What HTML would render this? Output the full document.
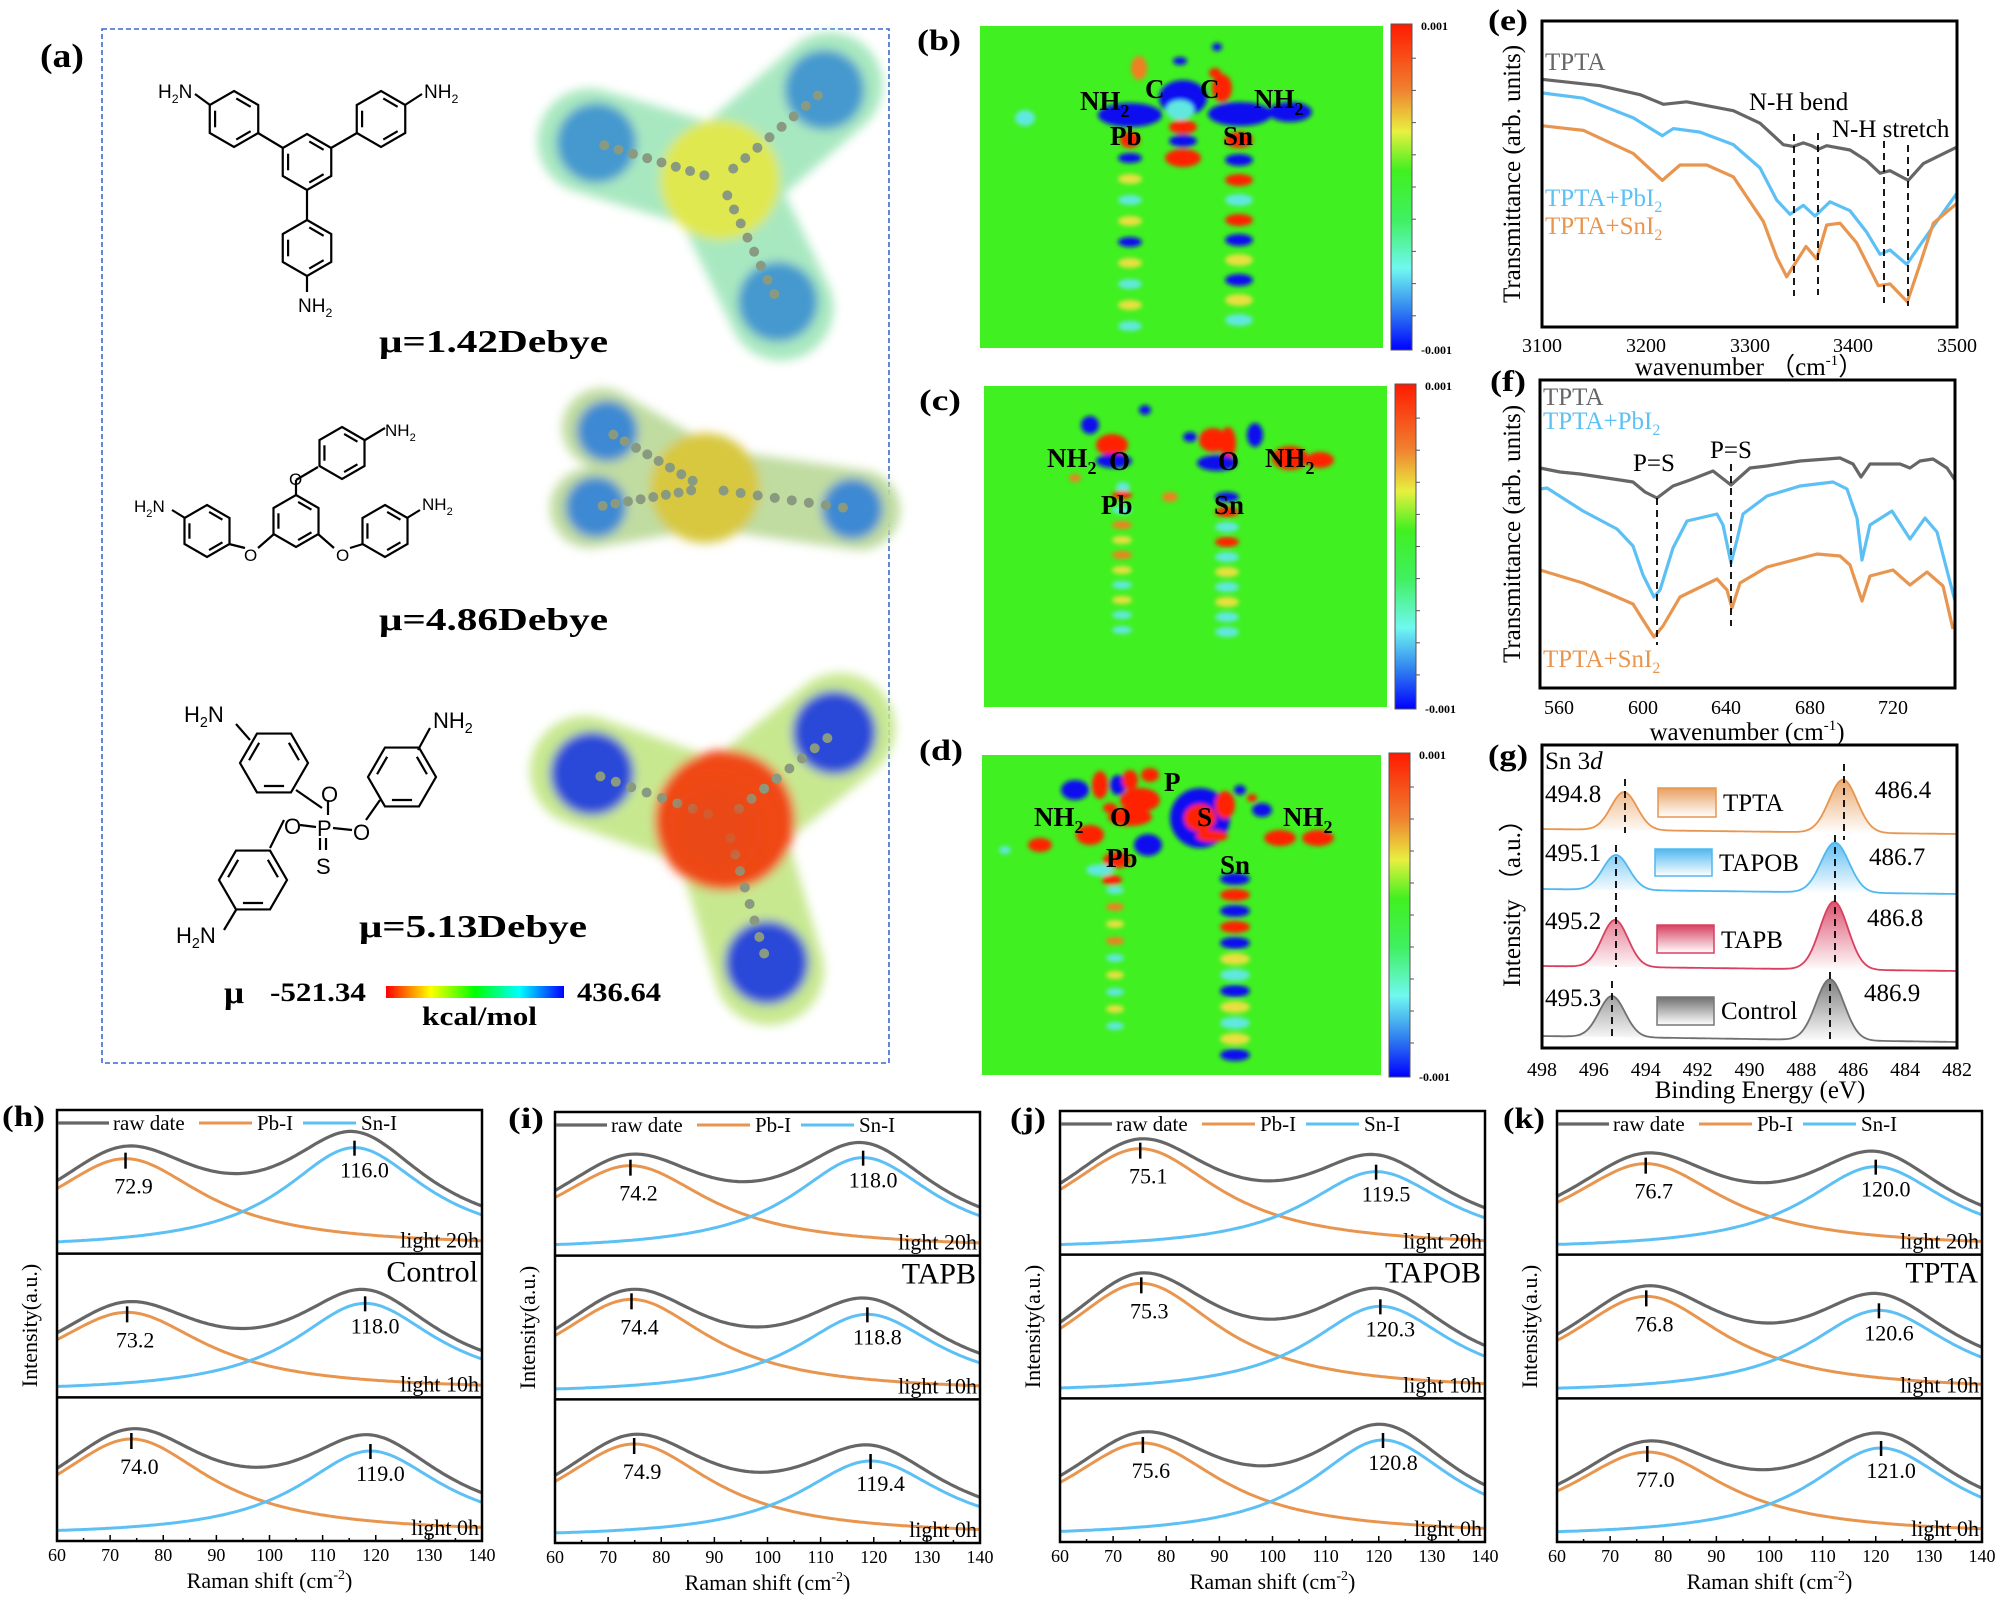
<!DOCTYPE html>
<html><head><meta charset="utf-8">
<style>
html,body{margin:0;padding:0;background:#fff;}
svg{display:block;}
text{font-family:"Liberation Serif",serif;}
.sans{font-family:"Liberation Sans",sans-serif;}
</style></head>
<body>
<svg id="s" xmlns="http://www.w3.org/2000/svg" width="2000" height="1601" viewBox="0 0 2000 1601">
<defs>
<filter id="bl2" x="-30%" y="-30%" width="160%" height="160%"><feGaussianBlur stdDeviation="2.2"/></filter>
<filter id="bl6" x="-30%" y="-30%" width="160%" height="160%"><feGaussianBlur stdDeviation="5"/></filter>
<filter id="bl12" x="-30%" y="-30%" width="160%" height="160%"><feGaussianBlur stdDeviation="12"/></filter>
<linearGradient id="cbar" x1="0" y1="0" x2="0" y2="1">
<stop offset="0" stop-color="#ff1a00"/><stop offset="0.2" stop-color="#f08030"/><stop offset="0.33" stop-color="#e8f040"/><stop offset="0.45" stop-color="#40f020"/><stop offset="0.6" stop-color="#40f060"/><stop offset="0.75" stop-color="#70f8f0"/><stop offset="0.88" stop-color="#3080f0"/><stop offset="1" stop-color="#0000ff"/></linearGradient>
<linearGradient id="hbar" x1="0" y1="0" x2="1" y2="0">
<stop offset="0" stop-color="#ff0000"/><stop offset="0.25" stop-color="#ffff00"/><stop offset="0.5" stop-color="#00ff00"/><stop offset="0.75" stop-color="#00ffff"/><stop offset="1" stop-color="#0000ff"/></linearGradient>
<linearGradient id="gO" x1="0" y1="0" x2="0" y2="1"><stop offset="0" stop-color="#e8a060"/><stop offset="1" stop-color="#fff"/></linearGradient>
<linearGradient id="gB" x1="0" y1="0" x2="0" y2="1"><stop offset="0" stop-color="#50b8f0"/><stop offset="1" stop-color="#fff"/></linearGradient>
<linearGradient id="gR" x1="0" y1="0" x2="0" y2="1"><stop offset="0" stop-color="#d84060"/><stop offset="1" stop-color="#fff"/></linearGradient>
<linearGradient id="gG" x1="0" y1="0" x2="0" y2="1"><stop offset="0" stop-color="#707070"/><stop offset="1" stop-color="#fff"/></linearGradient>
</defs>

<!-- Panel (a) -->
<rect x="102" y="29" width="787" height="1034" fill="none" stroke="#3a66d8" stroke-width="1.6" stroke-dasharray="5,3"/>
<text x="40" y="67" font-size="34" font-weight="bold" textLength="44" lengthAdjust="spacingAndGlyphs">(a)</text>
<g id="mols" stroke="#000" stroke-width="2.2" fill="none"></g>
<g id="esp"></g>
<g font-weight="bold" font-size="32">
<text x="379" y="352" textLength="229" lengthAdjust="spacingAndGlyphs">μ=1.42Debye</text>
<text x="379" y="630" textLength="229" lengthAdjust="spacingAndGlyphs">μ=4.86Debye</text>
<text x="359" y="937" textLength="228" lengthAdjust="spacingAndGlyphs">μ=5.13Debye</text>
<text x="224" y="1003" textLength="20" lengthAdjust="spacingAndGlyphs">μ</text>
<text x="270" y="1001" font-size="26" textLength="96" lengthAdjust="spacingAndGlyphs">-521.34</text>
<text x="577" y="1001" font-size="26" textLength="84" lengthAdjust="spacingAndGlyphs">436.64</text>
<text x="422" y="1025" font-size="26" textLength="115" lengthAdjust="spacingAndGlyphs">kcal/mol</text>
</g>
<rect x="386" y="986" width="178" height="12" fill="url(#hbar)"/>

<!-- heatmaps -->
<g id="heat"></g>
<g font-weight="bold" font-size="30">
<text x="917" y="50" textLength="44" lengthAdjust="spacingAndGlyphs">(b)</text>
<text x="919" y="410" textLength="42" lengthAdjust="spacingAndGlyphs">(c)</text>
<text x="919" y="760" textLength="44" lengthAdjust="spacingAndGlyphs">(d)</text>
<text x="1488" y="30" textLength="40" lengthAdjust="spacingAndGlyphs">(e)</text>
<text x="1490" y="391" textLength="36" lengthAdjust="spacingAndGlyphs">(f)</text>
<text x="1488" y="765" textLength="40" lengthAdjust="spacingAndGlyphs">(g)</text>
<text x="2" y="1126" textLength="43" lengthAdjust="spacingAndGlyphs">(h)</text>
<text x="508" y="1128" textLength="36" lengthAdjust="spacingAndGlyphs">(i)</text>
<text x="1010" y="1128" textLength="36" lengthAdjust="spacingAndGlyphs">(j)</text>
<text x="1503" y="1128" textLength="42" lengthAdjust="spacingAndGlyphs">(k)</text>
</g>

<!-- (e) -->
<g fill="none" stroke-width="3.2" stroke-linejoin="round">
<g transform="translate(1500,0) scale(0.33333,0.35714)">
<path vector-effect="non-scaling-stroke" stroke="#666" d="M125,222 L300,240 L420,265 L490,292 L560,285 L700,310 L780,345 L850,405 L880,410 L910,400 L935,408 L955,418 L980,408 L1050,420 L1100,450 L1140,485 L1170,478 L1225,505 L1270,458 L1370,412"/>
<path vector-effect="non-scaling-stroke" stroke="#5cc0f5" d="M125,260 L250,275 L400,330 L487,380 L520,360 L600,370 L700,405 L780,470 L830,560 L870,600 L910,575 L945,605 L990,565 L1050,590 L1100,650 L1140,712 L1170,700 L1220,740 L1280,660 L1370,542"/>
<path vector-effect="non-scaling-stroke" stroke="#e8964f" d="M125,352 L250,365 L400,430 L487,505 L540,462 L620,462 L700,495 L790,620 L830,720 L860,775 L918,690 L950,725 L980,630 L1020,625 L1070,680 L1135,800 L1170,795 L1222,845 L1260,740 L1300,625 L1370,570"/>
</g>
<g stroke="#000" stroke-width="1.8" stroke-dasharray="7,5">
<line x1="1794" y1="134" x2="1794" y2="296"/><line x1="1818" y1="133" x2="1818" y2="295"/><line x1="1884" y1="141" x2="1884" y2="303"/><line x1="1908" y1="145" x2="1908" y2="306"/>
</g>
</g>
<rect x="1542" y="21" width="415" height="306" fill="none" stroke="#000" stroke-width="3"/>
<g font-size="25">
<text x="1545" y="70" fill="#666">TPTA</text>
<text x="1749" y="110">N-H bend</text>
<text x="1832" y="137">N-H stretch</text>
<text x="1545" y="206" fill="#5cc0f5">TPTA+PbI<tspan font-size="16" dy="6">2</tspan></text>
<text x="1545" y="234" fill="#e8964f">TPTA+SnI<tspan font-size="16" dy="6">2</tspan></text>
</g>
<g font-size="20" text-anchor="middle">
<text x="1542" y="352">3100</text><text x="1646" y="352">3200</text><text x="1750" y="352">3300</text><text x="1853" y="352">3400</text><text x="1957" y="352">3500</text>
</g>
<text x="1749" y="375" font-size="25" text-anchor="middle">wavenumber （cm<tspan font-size="15" dy="-10">-1</tspan><tspan dy="10">）</tspan></text>
<text transform="translate(1520,174) rotate(-90)" font-size="25" text-anchor="middle">Transmittance (arb. units)</text>

<!-- (f) -->
<g fill="none" stroke-width="3.2" stroke-linejoin="round">
<path stroke="#666" d="M1540,468 L1560,472 L1580,474 L1600,477 L1620,480 L1633,482 L1645,492 L1657,498 L1673,486 L1690,480 L1713,471 L1731,485 L1750,468 L1767,466 L1800,461 L1840,458 L1853,464 L1861,477 L1870,464 L1900,464 L1910,468 L1920,461 L1933,459 L1947,468 L1955,480"/>
<path stroke="#5cc0f5" d="M1540,489 L1547,488 L1583,511 L1617,529 L1633,546 L1643,575 L1654,597 L1660,590 L1673,548 L1687,521 L1717,514 L1723,525 L1731,563 L1737,540 L1743,514 L1767,496 L1800,486 L1833,482 L1847,489 L1857,518 L1862,560 L1870,525 L1892,511 L1910,539 L1925,518 L1937,532 L1955,601"/>
<path stroke="#e8964f" d="M1540,570 L1583,583 L1610,594 L1633,604 L1643,620 L1654,637 L1663,626 L1680,597 L1717,579 L1727,590 L1732,608 L1740,583 L1767,567 L1817,554 L1840,556 L1850,565 L1862,601 L1870,576 L1893,570 L1910,585 L1927,572 L1943,586 L1953,629"/>
<g stroke="#000" stroke-width="1.8" stroke-dasharray="7,5"><line x1="1657" y1="498" x2="1657" y2="645"/><line x1="1731" y1="464" x2="1731" y2="626"/></g>
</g>
<rect x="1540" y="380" width="415" height="308" fill="none" stroke="#000" stroke-width="3"/>
<g font-size="25">
<text x="1543" y="405" fill="#666">TPTA</text>
<text x="1543" y="429" fill="#5cc0f5">TPTA+PbI<tspan font-size="16" dy="6">2</tspan></text>
<text x="1633" y="471">P=S</text><text x="1710" y="458">P=S</text>
<text x="1543" y="667" fill="#e8964f">TPTA+SnI<tspan font-size="16" dy="6">2</tspan></text>
</g>
<g font-size="20" text-anchor="middle">
<text x="1559" y="714">560</text><text x="1643" y="714">600</text><text x="1726" y="714">640</text><text x="1810" y="714">680</text><text x="1893" y="714">720</text>
</g>
<text x="1747" y="740" font-size="25" text-anchor="middle">wavenumber (cm<tspan font-size="15" dy="-10">-1</tspan><tspan dy="10">)</tspan></text>
<text transform="translate(1520,534) rotate(-90)" font-size="25" text-anchor="middle">Transmittance (arb. units)</text>

<!-- (g) -->
<g id="xps"></g>
<rect x="1542" y="745" width="415" height="303" fill="none" stroke="#000" stroke-width="3"/>
<g font-size="25">
<text x="1545" y="769">Sn 3<tspan font-style="italic">d</tspan></text>
<text x="1545" y="802">494.8</text><text x="1875" y="798">486.4</text>
<text x="1545" y="861">495.1</text><text x="1869" y="865">486.7</text>
<text x="1545" y="929">495.2</text><text x="1867" y="926">486.8</text>
<text x="1545" y="1006">495.3</text><text x="1864" y="1001">486.9</text>
<text x="1723" y="811">TPTA</text><text x="1719" y="871">TAPOB</text><text x="1721" y="948">TAPB</text><text x="1721" y="1019">Control</text>
</g>
<rect x="1658" y="788" width="58" height="29" fill="url(#gO)" stroke="#e8964f" stroke-width="1.5"/>
<rect x="1655" y="849" width="57" height="27" fill="url(#gB)" stroke="#50b8f0" stroke-width="1.5"/>
<rect x="1657" y="925" width="57" height="28" fill="url(#gR)" stroke="#d84060" stroke-width="1.5"/>
<rect x="1657" y="997" width="57" height="28" fill="url(#gG)" stroke="#777" stroke-width="1.5"/>
<g id="gt" font-size="20" text-anchor="middle"></g>
<text x="1760" y="1098" font-size="25" text-anchor="middle">Binding Energy (eV)</text>
<text transform="translate(1520,897) rotate(-90)" font-size="25" text-anchor="middle">Intensity （a.u.）</text>

<g id="raman"></g>
</svg>
<script>
var NS="http://www.w3.org/2000/svg";
function el(p,t,a,txt){var e=document.createElementNS(NS,t);for(var k in a)e.setAttribute(k,a[k]);if(txt!=null)e.textContent=txt;p.appendChild(e);return e;}
var M=document.getElementById('mols');
function hex(cx,cy,r,rot){var pts=[];for(var i=0;i<6;i++){var a=(rot+60*i)*Math.PI/180;pts.push([cx+r*Math.cos(a),cy+r*Math.sin(a)]);}
el(M,'polygon',{points:pts.map(function(p){return p.join(',')}).join(' ')});
for(var i=0;i<6;i+=2){var p=pts[i],q=pts[(i+1)%6];var f=0.78;var mx=cx+(p[0]-cx)*f,my=cy+(p[1]-cy)*f,nx=cx+(q[0]-cx)*f,ny=cy+(q[1]-cy)*f;var sx=(nx-mx)*0.12,sy=(ny-my)*0.12;el(M,'line',{x1:mx+sx,y1:my+sy,x2:nx-sx,y2:ny-sy});}}
function ln(a,b,c,d){el(M,'line',{x1:a,y1:b,x2:c,y2:d});}
function lab(x,y,s,sub,after,fs){var t=el(document.getElementById('s'),'text',{x:x,y:y,'font-size':fs||19,'class':'sans'});
var t1=document.createElementNS(NS,'tspan');t1.textContent=s;t.appendChild(t1);if(sub){var t2=document.createElementNS(NS,'tspan');t2.setAttribute('font-size',(fs||19)*0.65);t2.setAttribute('dy',5);t2.textContent=sub;t.appendChild(t2);if(after){var t3=document.createElementNS(NS,'tspan');t3.setAttribute('dy',-5);t3.textContent=after;t.appendChild(t3);}}}
hex(307,162,28,-90);hex(234,119,28,-90);hex(381,119,28,-90);hex(307,248,28,-90);
ln(283,148,258,133);ln(331,148,357,133);ln(307,190,307,220);ln(210,105,195,94);ln(405,105,422,94);ln(307,276,307,292);
lab(158,98,'H','2','N');lab(424,98,'NH','2');lab(298,312,'NH','2');
hex(296,521,26,-90);hex(207,531,26,-90);hex(385,531,26,-90);hex(342,453,26,-90);
ln(296,495,296,480);ln(296,480,318,467);ln(274,534,258,548);ln(318,534,334,548);ln(245,548,229,544);ln(350,548,363,544);
ln(185,518,172,510);ln(407,518,420,510);ln(365,440,385,428);
lab(134,512,'H','2','N',17);lab(422,510,'NH','2','',17);lab(385,436,'NH','2','',17);
var S=document.getElementById('s');
el(S,'text',{x:289,y:485,'font-size':17,'class':'sans'},'O');
el(S,'text',{x:244,y:561,'font-size':17,'class':'sans'},'O');
el(S,'text',{x:336,y:561,'font-size':17,'class':'sans'},'O');
hex(274,763,34,-60);hex(402,777,34,-60);hex(253,880,34,-60);
ln(296,790,322,808);ln(328,800,328,815);ln(300,825,316,827);ln(333,828,352,830);ln(366,820,380,800);ln(320,838,320,850);ln(326,838,326,850);ln(284,820,270,848);ln(250,740,236,724);ln(418,750,430,728);ln(236,910,224,930);
[['O',321,802],['O',284,834],['P',317,836],['O',353,840],['S',316,874]].forEach(function(a){el(S,'text',{x:a[1],y:a[2],'font-size':22,'class':'sans'},a[0]);});
lab(184,722,'H','2','N',22);lab(433,728,'NH','2','',22);lab(176,943,'H','2','N',22);
var E=document.getElementById('esp');
function blob(arms,ctr,cc,armc,endc,w,cr){var g=el(E,'g',{filter:'url(#bl6)'});
arms.forEach(function(a){el(g,'line',{x1:ctr[0],y1:ctr[1],x2:a[0],y2:a[1],stroke:armc,'stroke-width':w,'stroke-linecap':'round'});});
arms.forEach(function(a){el(g,'circle',{cx:a[0]+(ctr[0]-a[0])*0.05,cy:a[1]+(ctr[1]-a[1])*0.05,r:w*0.38,fill:endc,opacity:0.9});});
el(g,'circle',{cx:ctr[0],cy:ctr[1],r:cr,fill:cc});
var g2=el(E,'g',{});
arms.forEach(function(a){for(var t=0.12;t<0.95;t+=0.11){el(g2,'circle',{cx:ctr[0]+(a[0]-ctr[0])*t,cy:ctr[1]+(a[1]-ctr[1])*t,r:5,fill:'#8a9a80'});}});}
blob([[590,141],[830,85],[781,308]],[720,180],'#e0e850','#a8e8c0','#3a90d0',105,60);
blob([[602,428],[590,508],[860,510]],[705,488],'#d8c840','#c0dca0','#3080d8',80,55);
blob([[585,771],[840,728],[769,970]],[725,820],'#f04818','#c8e890','#1838e0',110,70);
el(E,'circle',{cx:715,cy:830,r:42,fill:'#e84a18',filter:'url(#bl12)',opacity:0.8});
var H=document.getElementById('heat');
function heat(x,y,w,h,blobs){el(H,'rect',{x:x,y:y,width:w,height:h,fill:'#40f020'});
var cp=el(H,'clipPath',{id:'c'+x+y});el(cp,'rect',{x:x,y:y,width:w,height:h});
var g=el(H,'g',{'clip-path':'url(#c'+x+y+')'});var g2=el(g,'g',{filter:'url(#bl2)'});
blobs.forEach(function(b){el(g2,'ellipse',{cx:b[0],cy:b[1],rx:b[2],ry:b[3],fill:b[4]});});
var cbx=x+w+8;el(H,'rect',{x:cbx,y:y-2,width:21,height:h+4,fill:'url(#cbar)',stroke:'#555','stroke-width':1});
for(var i=1;i<10;i++)el(H,'line',{x1:cbx+21,y1:y+i*h/10,x2:cbx+25,y2:y+i*h/10,stroke:'#555'});
el(H,'text',{x:cbx+30,y:y+4,'font-size':12,'font-weight':'bold'},'0.001');
el(H,'text',{x:cbx+30,y:y+h+6,'font-size':12,'font-weight':'bold'},'-0.001');}
var R='#ff2000',B='#0a10f0',Y='#e8e040',C='#60e8e0',O='#f08020';
function col(cx,y0,n,dy,cols,rx,ry){var a=[];for(var i=0;i<n;i++)a.push([cx,y0+i*dy,rx,ry,cols[i%cols.length]]);return a;}
var bb=[[1183,98,24,18,B],[1130,115,32,12,B],[1240,114,32,12,B],[1290,112,22,10,B],[1183,127,14,7,R],[1183,141,14,6,B],[1183,158,18,9,R],[1139,68,8,12,O],[1222,88,10,14,R],[1215,73,6,5,R],[1180,61,7,4,B],[1217,47,5,4,B],[1130,140,10,8,R],[1239,140,14,8,R],[1180,110,14,10,C],[1025,118,10,8,C]];
bb=bb.concat(col(1130,158,9,21,[B,Y,C,Y,B,Y,C,Y,C],12,5)).concat(col(1239,160,9,20,[B,R,C,R,B,Y,B,Y,C],14,6));
heat(980,26,403,322,bb);
var cb=[[1090,425,9,9,B],[1112,445,16,11,R],[1114,461,18,7,B],[1190,437,7,5,B],[1145,410,6,5,B],[1213,440,14,12,R],[1228,443,8,16,R],[1217,463,20,8,B],[1255,435,8,12,B],[1290,458,18,12,R],[1320,460,14,8,R],[1123,487,7,5,C],[1170,497,8,5,O],[1075,478,6,4,O]];
cb=cb.concat(col(1122,495,10,15,[R,C,O,Y,O,Y,C,Y,C,C],10,4)).concat(col(1227,497,10,15,[B,R,C,R,C,Y,C,Y,C,C],12,5));
heat(984,386,403,321,cb);
var db=[[1075,790,14,10,B],[1100,785,8,14,R],[1118,785,8,10,B],[1140,800,20,12,R],[1130,780,8,10,R],[1150,775,9,7,R],[1110,808,7,5,R],[1130,817,22,9,R],[1148,845,14,11,B],[1117,860,14,8,R],[1112,880,10,5,R],[1200,818,30,30,B],[1200,818,16,14,R],[1212,836,16,6,R],[1225,805,10,14,R],[1240,790,6,5,B],[1252,798,5,4,R],[1262,810,10,7,B],[1280,838,16,8,R],[1318,838,16,8,R],[1040,845,12,7,R],[1090,835,14,10,R],[1100,870,14,6,C],[1005,850,6,4,C]];
db=db.concat(col(1115,890,9,17,[C,O,Y,O,C,Y,C,Y,C],9,4)).concat(col(1235,879,12,16,[B,R,B,R,B,Y,C,B,Y,C,Y,B],15,6));
heat(982,755,399,320,db);
var L=[['NH',1080,110,'2'],['C',1145,98],['C',1200,98],['NH',1254,108,'2'],['Pb',1110,145],['Sn',1223,145],
['NH',1047,467,'2'],['O',1109,470],['Pb',1101,514],['O',1218,470],['Sn',1214,514],['NH',1265,467,'2'],
['P',1164,791],['NH',1034,826,'2'],['O',1110,826],['Pb',1106,867],['S',1197,826],['Sn',1220,874],['NH',1283,826,'2']];
L.forEach(function(a){var t=el(S,'text',{x:a[1],y:a[2],'font-size':27,'font-weight':'bold'},a[0]);if(a[3]){var s2=document.createElementNS(NS,'tspan');s2.setAttribute('font-size',18);s2.setAttribute('dy',7);s2.textContent=a[3];t.appendChild(s2);}});
var X=document.getElementById('xps');
function xx(v){return 1542+(498-v)*25.94;}
function xps(b0,b1,p1,h1,p2,h2,col,grad){var pts=[];for(var x=1542;x<=1957;x+=2){var base=b0+(b1-b0)*(x-1542)/415;var y=base-h1*Math.exp(-Math.pow((x-p1)/13,2)/2)-h2*Math.exp(-Math.pow((x-p2)/14,2)/2);pts.push([x,y]);}
var d='M'+pts.map(function(p){return p[0]+','+p[1].toFixed(1)}).join(' L');
el(X,'path',{d:d+' L1957,'+b1+' L1542,'+b0+'Z',fill:grad,opacity:0.9});
el(X,'path',{d:d,fill:'none',stroke:col,'stroke-width':1.8});}
xps(829,834,1624,38,1843,53,'#e8964f','url(#gO)');
xps(889,894,1616,35,1835,50,'#50b8f0','url(#gB)');
xps(966,971,1615,47,1834,68,'#d84060','url(#gR)');
xps(1036,1042,1612,41,1830,61,'#707070','url(#gG)');
var dl=[[1625,779,833],[1844,764,840],[1616,845,967],[1835,835,967],[1612,981,1036],[1830,972,1042]];
dl.forEach(function(a){el(X,'line',{x1:a[0],y1:a[1],x2:a[0],y2:a[2],stroke:'#000','stroke-width':1.8,'stroke-dasharray':'7,5'});});
var GT=document.getElementById('gt');for(var v=498;v>=482;v-=2){el(GT,'text',{x:xx(v),y:1076},''+v);}
var RG=document.getElementById('raman');
function lor(x,c,w,A){return A/(1+Math.pow((x-c)/w,2));}
function raman(x0,y0,vals,amps,name){var W=425,Ht=431,h3=Ht/3;var px=function(v){return x0+(v-60)*W/80;};
var times=['light 20h','light 10h','light 0h'];
for(var s=0;s<3;s++){var bot=y0+(s+1)*h3,base=bot-7;var c1=vals[s][0],c2=vals[s][1],A1=amps[s][0],A2=amps[s][1];
var o=[],b=[],g=[];for(var v=60;v<=140.01;v+=0.5){var yo=lor(v,c1,18,A1),yb=lor(v,c2,16.5,A2)*(v<c2?Math.exp(-Math.pow((c2-v)/80,2)):1);o.push(px(v)+','+(base-yo).toFixed(1));b.push(px(v)+','+(base-yb).toFixed(1));g.push(px(v)+','+(base-yo-yb-3).toFixed(1));}
el(RG,'polyline',{points:o.join(' '),fill:'none',stroke:'#e8964f','stroke-width':3});
el(RG,'polyline',{points:b.join(' '),fill:'none',stroke:'#5cc0f5','stroke-width':3});
el(RG,'polyline',{points:g.join(' '),fill:'none',stroke:'#666','stroke-width':3.2});
var po=base-lor(c1,c1,18,A1)-1,pb=base-A2;
el(RG,'line',{x1:px(c1),y1:po-5,x2:px(c1),y2:po+11,stroke:'#000','stroke-width':2.5});
el(RG,'line',{x1:px(c2),y1:pb-7,x2:px(c2),y2:pb+8,stroke:'#000','stroke-width':2.5});
el(RG,'text',{x:px(c1)+8,y:po+36,'font-size':22,'text-anchor':'middle'},vals[s][0].toFixed(1));
el(RG,'text',{x:px(c2)+10,y:pb+30,'font-size':22,'text-anchor':'middle'},vals[s][1].toFixed(1));
el(RG,'text',{x:x0+W-3,y:bot-6,'font-size':22,'text-anchor':'end'},times[s]);
if(s<2)el(RG,'line',{x1:x0,y1:bot,x2:x0+W,y2:bot,stroke:'#000','stroke-width':2.5});}
el(RG,'rect',{x:x0,y:y0,width:W,height:Ht,fill:'none',stroke:'#000','stroke-width':2.5});
el(RG,'text',{x:x0+W-4,y:y0+h3+28,'font-size':30,'text-anchor':'end'},name);
var ly=y0+13;el(RG,'line',{x1:x0+1,y1:ly,x2:x0+52,y2:ly,stroke:'#666','stroke-width':3.2});
el(RG,'text',{x:x0+56,y:ly+7,'font-size':21},'raw date');
el(RG,'line',{x1:x0+142,y1:ly,x2:x0+195,y2:ly,stroke:'#e8964f','stroke-width':3});
el(RG,'text',{x:x0+200,y:ly+7,'font-size':21},'Pb-I');
el(RG,'line',{x1:x0+246,y1:ly,x2:x0+299,y2:ly,stroke:'#5cc0f5','stroke-width':3});
el(RG,'text',{x:x0+304,y:ly+7,'font-size':21},'Sn-I');
for(var v=60;v<=140;v+=5){el(RG,'line',{x1:px(v),y1:y0+Ht,x2:px(v),y2:y0+Ht-(v%10?3:6),stroke:'#000','stroke-width':1.5});if(v%10==0)el(RG,'text',{x:px(v),y:y0+Ht+20,'font-size':18,'text-anchor':'middle'},''+v);}
var t=el(RG,'text',{x:x0+W/2,y:y0+Ht+47,'font-size':22,'text-anchor':'middle'},'Raman shift (cm');var s1=document.createElementNS(NS,'tspan');s1.setAttribute('font-size',14);s1.setAttribute('dy',-9);s1.textContent='-2';t.appendChild(s1);var s2=document.createElementNS(NS,'tspan');s2.setAttribute('dy',9);s2.textContent=')';t.appendChild(s2);
el(RG,'text',{transform:'translate('+(x0-20)+','+(y0+Ht/2)+') rotate(-90)','font-size':22,'text-anchor':'middle'},'Intensity(a.u.)');}
raman(57,1110,[[72.9,116.0],[73.2,118.0],[74.0,119.0]],[[88,99],[78,87],[95,83]],'Control');
raman(555,1112,[[74.2,118.0],[74.4,118.8],[74.9,119.4]],[[83,91],[93,78],[92,75]],'TAPB');
raman(1060,1111,[[75.1,119.5],[75.3,120.3],[75.6,120.8]],[[99,76],[108,85],[92,95]],'TAPOB');
raman(1557,1111,[[76.7,120.0],[76.8,120.6],[77.0,121.0]],[[84,81],[95,81],[83,87]],'TPTA');
</script>
</body></html>
